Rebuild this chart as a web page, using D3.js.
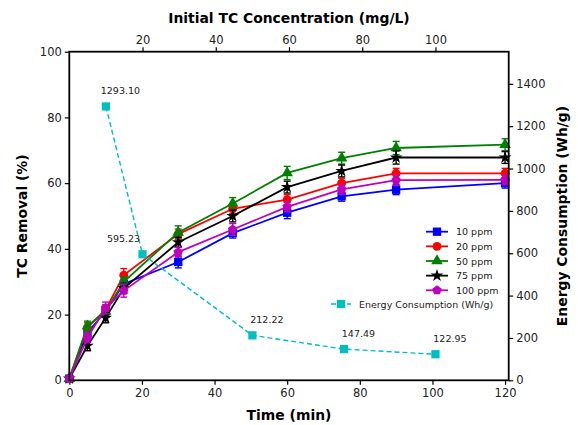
<!DOCTYPE html>
<html><head><meta charset="utf-8">
<script src="https://cdn.jsdelivr.net/npm/d3@7"></script>
<style>body{margin:0;background:#fff} text{font-family:"DejaVu Sans",sans-serif}</style>
</head><body>
<svg id="c" width="578" height="425"></svg>
<script>
const time = [0, 5, 10, 15, 30, 45, 60, 75, 90, 120];
const seriesNames = ["10 ppm", "20 ppm", "50 ppm", "75 ppm", "100 ppm"];
const rem10  = [0.5, 14.5, 21, 29.3, 36, 44.8, 51, 56, 58, 60];
const rem20  = [0.5, 16, 21.5, 32, 44.5, 52.2, 55, 60, 63, 63];
const rem50  = [0.5, 16.5, 21, 30, 45, 53.8, 63.1, 67.6, 70.7, 71.7];
const rem75  = [0.5, 10.5, 19, 28, 42, 50, 58.8, 63.7, 67.8, 67.8];
const rem100 = [0.5, 13, 22, 27.3, 39, 45.9, 52.8, 58.1, 60.9, 61];
const err10  = [0.5, 1.5, 1.5, 1.5, 1.8, 1.5, 1.8, 1.5, 1.5, 1.5];
const err20  = [0.5, 1.5, 1.5, 2, 1.5, 1.5, 1.5, 1.5, 1.5, 1.5];
const err50  = [0.5, 1.5, 1.5, 1.5, 2, 1.8, 2, 1.8, 2, 1.8];
const err75  = [0.5, 1.5, 1.5, 1.5, 1.5, 1.8, 1.8, 1.8, 2, 1.8];
const err100 = [0.5, 1.5, 1.8, 2, 1.5, 1.8, 1.5, 1.5, 1.5, 1.5];
const concentration = [10, 20, 50, 75, 100];
const energy = [1293.10, 595.23, 212.22, 147.49, 122.95];
const energyLabels = ["1293.10", "595.23", "212.22", "147.49", "122.95"];
const timeTicks = [0, 20, 40, 60, 80, 100, 120];
const concTicks = [20, 40, 60, 80, 100];
const removalTicks = [0, 20, 40, 60, 80, 100];
const energyTicks = [0, 200, 400, 600, 800, 1000, 1200, 1400];

const svg = d3.select("#c");
const L = 69.3, R = 508.7, T = 51.7, B = 380.3;
const x = d3.scaleLinear().domain([0, 121]).range([L, R]);
const xTop = d3.scaleLinear().domain([0, 120]).range([L, R]);
const y = d3.scaleLinear().domain([0, 100]).range([B, T]);
const yR = d3.scaleLinear().domain([0, d3.max(energy) * 1.2]).range([B, T]);

const colors = ["#0000ff", "#ff0000", "#008000", "#000000", "#bf00bf"];
const rems = [rem10, rem20, rem50, rem75, rem100];
const errs = [err10, err20, err50, err75, err100];

function pentagon(r) {
  const p = d3.path();
  for (let k = 0; k < 5; k++) {
    const a = -Math.PI / 2 + k * 2 * Math.PI / 5;
    const px = r * Math.cos(a), py = r * Math.sin(a);
    if (k === 0) p.moveTo(px, py); else p.lineTo(px, py);
  }
  p.closePath();
  return p.toString();
}
const markers = [
  d3.symbol(d3.symbolSquare, 70)(),
  d3.symbol(d3.symbolCircle, 62)(),
  d3.symbol(d3.symbolTriangle, 58)(),
  d3.symbol(d3.symbolStar, 50)(),
  pentagon(5)
];

// Axes
const fs = "11.5px";
function styleAxis(g) {
  g.selectAll("path.domain").remove();
  g.selectAll(".tick line").attr("stroke", "#000").attr("stroke-width", 1.2);
  g.selectAll(".tick text").attr("font-size", fs).attr("fill", "#222")
    .attr("font-family", "DejaVu Sans, sans-serif");
}
const fmt = d3.format("d");
svg.append("g").attr("transform", `translate(0,${B})`)
  .call(d3.axisBottom(x).tickValues(timeTicks).tickFormat(fmt).tickSize(4.5).tickPadding(4)).call(styleAxis);
svg.append("g").attr("transform", `translate(0,${T})`)
  .call(d3.axisTop(xTop).tickValues(concTicks).tickFormat(fmt).tickSize(4.5).tickPadding(3)).call(styleAxis);
svg.append("g").attr("transform", `translate(${L},0)`)
  .call(d3.axisLeft(y).tickValues(removalTicks).tickFormat(fmt).tickSize(4.5).tickPadding(3)).call(styleAxis);
svg.append("g").attr("transform", `translate(${R},0)`)
  .call(d3.axisRight(yR).tickValues(energyTicks).tickFormat(fmt).tickSize(4.5).tickPadding(3)).call(styleAxis);

// Series
const line = d3.line();
rems.forEach((vals, i) => {
  const g = svg.append("g");
  const c = colors[i];
  g.append("path").attr("d", line(time.map((t, j) => [x(t), y(vals[j])])))
    .attr("fill", "none").attr("stroke", c).attr("stroke-width", 1.8);
  time.forEach((t, j) => {
    const e = errs[i][j];
    const cx = x(t);
    g.append("line").attr("x1", cx).attr("x2", cx).attr("y1", y(vals[j] - e)).attr("y2", y(vals[j] + e))
      .attr("stroke", c).attr("stroke-width", 1.4);
    [vals[j] - e, vals[j] + e].forEach(v => {
      g.append("line").attr("x1", cx - 3.5).attr("x2", cx + 3.5).attr("y1", y(v)).attr("y2", y(v))
        .attr("stroke", c).attr("stroke-width", 1.4);
    });
    g.append("path").attr("d", markers[i]).attr("transform", `translate(${cx},${y(vals[j])})`)
      .attr("fill", c);
  });
});

// Energy
const cyan = "#00bfbf";
svg.append("path").attr("d", line(concentration.map((cc, j) => [xTop(cc), yR(energy[j])])))
  .attr("fill", "none").attr("stroke", cyan).attr("stroke-width", 1.4).attr("stroke-dasharray", "5,3");
concentration.forEach((cc, j) => {
  svg.append("path").attr("d", d3.symbol(d3.symbolSquare, 68)())
    .attr("transform", `translate(${xTop(cc)},${yR(energy[j])})`).attr("fill", cyan);
  const dx = j === 1 ? -19 : 14.5;
  svg.append("text").attr("x", xTop(cc) + dx).attr("y", yR(energy[j]) - 12.5)
    .attr("text-anchor", "middle").attr("font-size", "9.5px").attr("fill", "#222").text(energyLabels[j]);
});

// Frame
svg.append("rect").attr("x", L).attr("y", T).attr("width", R - L).attr("height", B - T)
  .attr("fill", "none").attr("stroke", "#000").attr("stroke-width", 1.8);

// Titles
const tfs = "13.9px";
svg.append("text").attr("x", (L + R) / 2).attr("y", 23).attr("text-anchor", "middle")
  .attr("font-size", tfs).attr("font-weight", "bold").text("Initial TC Concentration (mg/L)");
svg.append("text").attr("x", (L + R) / 2).attr("y", 420).attr("text-anchor", "middle")
  .attr("font-size", tfs).attr("font-weight", "bold").text("Time (min)");
svg.append("text").attr("transform", `translate(27,${(T + B) / 2}) rotate(-90)`).attr("text-anchor", "middle")
  .attr("font-size", tfs).attr("font-weight", "bold").text("TC Removal (%)");
svg.append("text").attr("transform", `translate(567,${(T + B) / 2}) rotate(-90)`).attr("text-anchor", "middle")
  .attr("font-size", tfs).attr("font-weight", "bold").text("Energy Consumption (Wh/g)");

// Legend
const lg = svg.append("g");
seriesNames.forEach((n, i) => {
  const ly = 231.7 + i * 14.65;
  lg.append("line").attr("x1", 426).attr("x2", 448).attr("y1", ly).attr("y2", ly)
    .attr("stroke", colors[i]).attr("stroke-width", 1.8);
  lg.append("path").attr("d", markers[i]).attr("transform", `translate(437,${ly})`).attr("fill", colors[i]);
  lg.append("text").attr("x", 456).attr("y", ly + 3.5).attr("font-size", "9.5px").attr("fill", "#222").text(n);
});
{
  const ly = 304;
  lg.append("line").attr("x1", 331).attr("x2", 351).attr("y1", ly).attr("y2", ly)
    .attr("stroke", cyan).attr("stroke-width", 1.4).attr("stroke-dasharray", "5,3");
  lg.append("path").attr("d", d3.symbol(d3.symbolSquare, 68)()).attr("transform", `translate(341,${ly})`).attr("fill", cyan);
  lg.append("text").attr("x", 359).attr("y", ly + 3.5).attr("font-size", "9.5px").attr("fill", "#222")
    .text("Energy Consumption (Wh/g)");
}
</script>
</body></html>
